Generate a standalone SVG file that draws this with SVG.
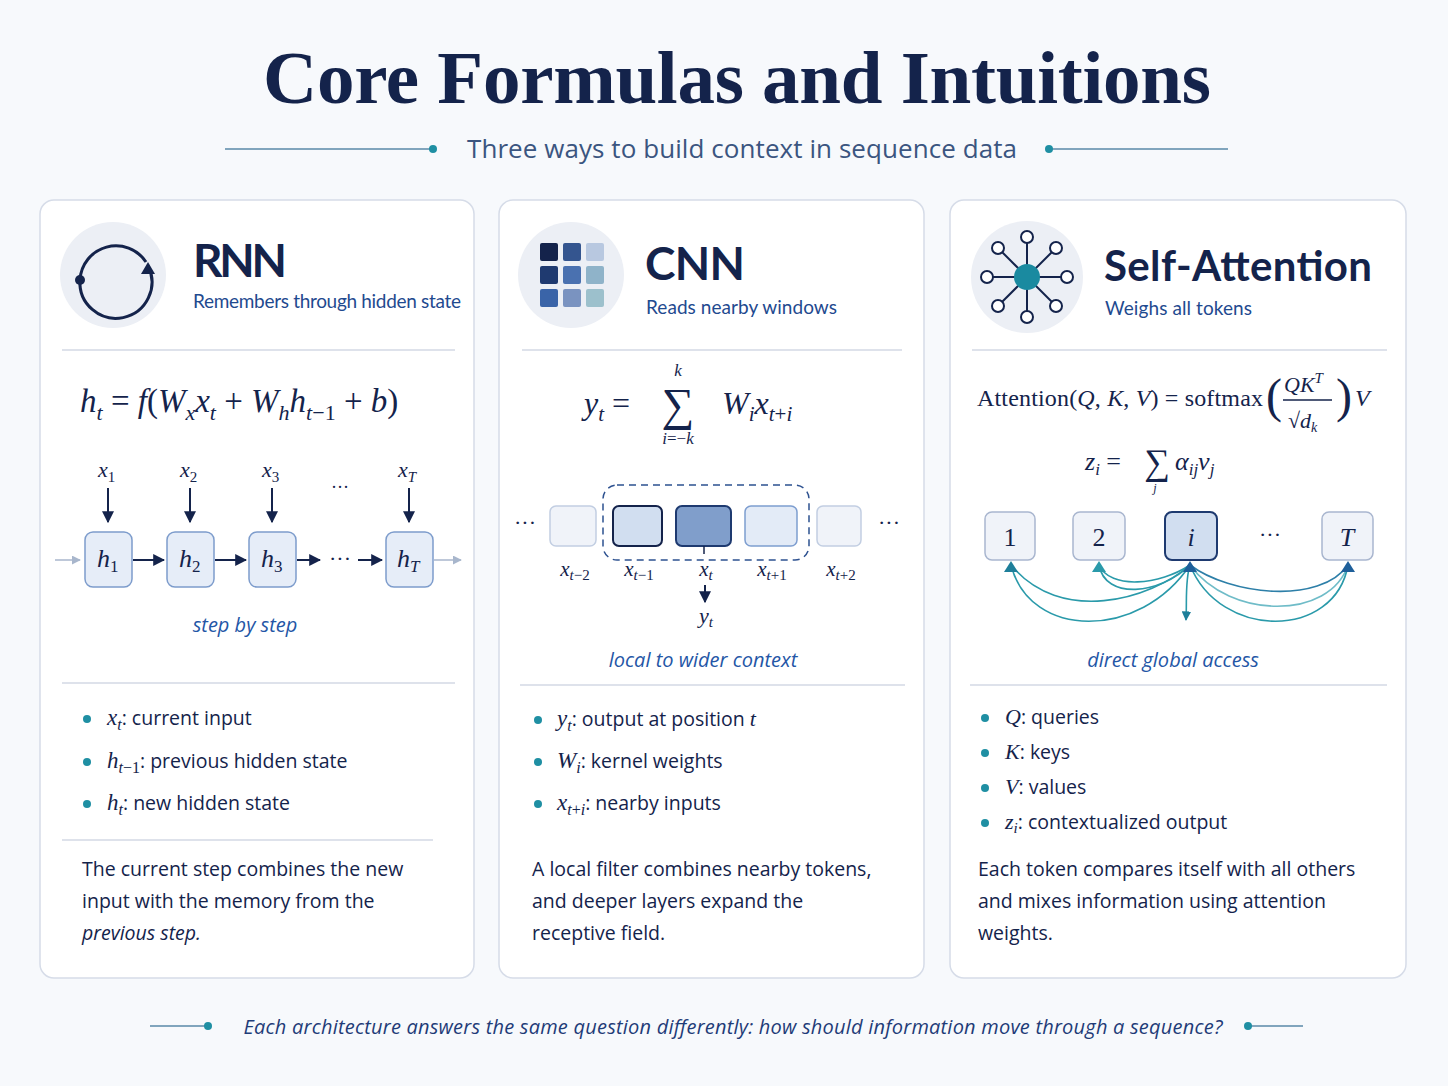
<svg xmlns="http://www.w3.org/2000/svg" width="1448" height="1086" viewBox="0 0 1448 1086">
<defs>
<style>
.sans{font-family:"Open Sans","Liberation Sans",sans-serif}
.serif{font-family:"Liberation Serif","DejaVu Serif",serif}
.m{font-family:"Liberation Serif",serif;font-style:italic;fill:#14234b}
.mr{font-family:"Liberation Serif",serif;fill:#14234b}
.panel{fill:#fff;stroke:#d6dce8;stroke-width:1.5}
.sep{stroke:#d3d9e4;stroke-width:1.5}
.head{font-family:Lato,"Liberation Sans",sans-serif;font-weight:700;fill:#14234b}
.sub{font-family:Lato,"Liberation Sans",sans-serif;font-size:19px;fill:#1f4a8f}
.cap{font-family:"Open Sans","Liberation Sans",sans-serif;font-style:italic;font-size:20px;fill:#2456a6;text-anchor:middle}
.txt{font-family:"Open Sans","Liberation Sans",sans-serif;font-size:19.5px;fill:#14234b}
.dot{fill:#1f8fa3}
.hbox{fill:#e6edf8;stroke:#7d9ccc;stroke-width:1.5}
.arr{stroke:#14234b;stroke-width:2;fill:none;marker-end:url(#ah)}
.arc{stroke:#2a9aaa;stroke-width:1.6;fill:none}
</style>
<marker id="ah" viewBox="0 0 10 10" refX="9" refY="5" markerWidth="6" markerHeight="6" orient="auto"><path d="M0,0L10,5L0,10z" fill="#14234b"/></marker>
<marker id="ahl" viewBox="0 0 10 10" refX="9" refY="5" markerWidth="6" markerHeight="6" orient="auto"><path d="M0,0L10,5L0,10z" fill="#a8b6cc"/></marker>
<marker id="aht" viewBox="0 0 10 10" refX="9" refY="5" markerWidth="6" markerHeight="6" orient="auto"><path d="M0,0L10,5L0,10z" fill="#1e7f9a"/></marker>
</defs>
<rect width="1448" height="1086" fill="#f7f9fc"/>
<text x="737" y="103" text-anchor="middle" class="serif" font-size="75" font-weight="700" fill="#14234b" textLength="948">Core Formulas and Intuitions</text>
<g id="subtitle">
<line x1="225" y1="149" x2="432" y2="149" stroke="#5a88a8" stroke-width="1.5"/><circle cx="433" cy="149" r="4" class="dot"/>
<line x1="1050" y1="149" x2="1228" y2="149" stroke="#5a88a8" stroke-width="1.5"/><circle cx="1049" cy="149" r="4" class="dot"/>
<text x="742" y="158" text-anchor="middle" class="sans" font-size="26" fill="#3b5580" textLength="550">Three ways to build context in sequence data</text>
</g>

<g id="rnn">
<rect x="40" y="200" width="434" height="778" rx="14" class="panel"/>
<circle cx="113" cy="275" r="53" fill="#eceff5"/>
<path d="M80,280 A36,36 0 1 0 148,266" fill="none" stroke="#14234b" stroke-width="3"/>
<path d="M80,280 A36,36 0 0 1 146,262" fill="none" stroke="#14234b" stroke-width="3"/>
<circle cx="80" cy="280" r="5" fill="#14234b"/>
<path d="M141,274 L148,262 L155,274z" fill="#14234b"/>
<text x="193" y="277" class="head" font-size="46" textLength="94">RNN</text>
<text x="193" y="308" class="sub" textLength="268">Remembers through hidden state</text>
<line x1="62" y1="350" x2="455" y2="350" class="sep"/>
<text x="80" y="412" class="m" font-size="33">h<tspan font-size="22" dy="8">t</tspan><tspan dy="-8" font-style="normal"> = </tspan>f<tspan font-style="normal">(</tspan>W<tspan font-size="22" dy="8">x</tspan><tspan dy="-8">x</tspan><tspan font-size="22" dy="8">t</tspan><tspan dy="-8" font-style="normal"> + </tspan>W<tspan font-size="22" dy="8">h</tspan><tspan dy="-8">h</tspan><tspan font-size="22" dy="8">t</tspan><tspan font-size="22" font-style="normal">−1</tspan><tspan dy="-8" font-style="normal"> + </tspan>b<tspan font-style="normal">)</tspan></text>
<g font-size="22">
<text x="98" y="477" class="m">x<tspan font-size="15" dy="5" font-style="normal">1</tspan></text>
<text x="180" y="477" class="m">x<tspan font-size="15" dy="5" font-style="normal">2</tspan></text>
<text x="262" y="477" class="m">x<tspan font-size="15" dy="5" font-style="normal">3</tspan></text>
<text x="398" y="477" class="m">x<tspan font-size="15" dy="5">T</tspan></text>
</g>
<text x="340" y="493" class="mr" font-size="18" text-anchor="middle">···</text>
<line x1="108" y1="488" x2="108" y2="522" class="arr"/>
<line x1="190" y1="488" x2="190" y2="522" class="arr"/>
<line x1="272" y1="488" x2="272" y2="522" class="arr"/>
<line x1="409" y1="488" x2="409" y2="522" class="arr"/>
<rect x="85" y="532" width="47" height="55" rx="8" class="hbox"/>
<rect x="167" y="532" width="47" height="55" rx="8" class="hbox"/>
<rect x="249" y="532" width="47" height="55" rx="8" class="hbox"/>
<rect x="386" y="532" width="47" height="55" rx="8" class="hbox"/>
<g font-size="26">
<text x="97" y="567" class="m">h<tspan font-size="17" dy="5" font-style="normal">1</tspan></text>
<text x="179" y="567" class="m">h<tspan font-size="17" dy="5" font-style="normal">2</tspan></text>
<text x="261" y="567" class="m">h<tspan font-size="17" dy="5" font-style="normal">3</tspan></text>
<text x="397" y="567" class="m">h<tspan font-size="17" dy="5">T</tspan></text>
</g>
<line x1="55" y1="560" x2="80" y2="560" stroke="#a8b6cc" stroke-width="1.5" marker-end="url(#ahl)"/>
<line x1="133" y1="560" x2="164" y2="560" class="arr"/>
<line x1="215" y1="560" x2="246" y2="560" class="arr"/>
<line x1="297" y1="560" x2="320" y2="560" class="arr"/>
<text x="340" y="566" class="mr" font-size="22" text-anchor="middle">···</text>
<line x1="358" y1="560" x2="382" y2="560" class="arr"/>
<line x1="434" y1="560" x2="461" y2="560" stroke="#a8b6cc" stroke-width="1.5" marker-end="url(#ahl)"/>
<text x="245" y="632" class="cap">step by step</text>
<line x1="62" y1="683" x2="455" y2="683" class="sep"/>
<circle cx="87" cy="719" r="4" class="dot"/><circle cx="87" cy="762" r="4" class="dot"/><circle cx="87" cy="804" r="4" class="dot"/>
<text x="107" y="725" class="txt"><tspan class="m" font-size="23">x</tspan><tspan class="m" font-size="16" dy="5">t</tspan><tspan dy="-5">:  current input</tspan></text>
<text x="107" y="768" class="txt"><tspan class="m" font-size="23">h</tspan><tspan class="m" font-size="16" dy="5">t</tspan><tspan class="mr" font-size="16">−1</tspan><tspan dy="-5">:  previous hidden state</tspan></text>
<text x="107" y="810" class="txt"><tspan class="m" font-size="23">h</tspan><tspan class="m" font-size="16" dy="5">t</tspan><tspan dy="-5">:  new hidden state</tspan></text>
<line x1="62" y1="840" x2="433" y2="840" class="sep"/>
<text x="82" y="876" class="txt">The current step combines the new</text>
<text x="82" y="908" class="txt">input with the memory from the</text>
<text x="82" y="940" class="txt" font-style="italic">previous step.</text>
</g>

<g id="cnn">
<rect x="499" y="200" width="425" height="778" rx="14" class="panel"/>
<circle cx="571" cy="275" r="53" fill="#eceff5"/>
<rect x="540" y="243" width="18" height="18" rx="2" fill="#14234b"/>
<rect x="563" y="243" width="18" height="18" rx="2" fill="#34558f"/>
<rect x="586" y="243" width="18" height="18" rx="2" fill="#b8c8e0"/>
<rect x="540" y="266" width="18" height="18" rx="2" fill="#1f3a70"/>
<rect x="563" y="266" width="18" height="18" rx="2" fill="#4a71b0"/>
<rect x="586" y="266" width="18" height="18" rx="2" fill="#8fb3c9"/>
<rect x="540" y="289" width="18" height="18" rx="2" fill="#3a64a8"/>
<rect x="563" y="289" width="18" height="18" rx="2" fill="#7a93c0"/>
<rect x="586" y="289" width="18" height="18" rx="2" fill="#9cc0cc"/>
<text x="645" y="280" class="head" font-size="46" textLength="100">CNN</text>
<text x="646" y="314" class="sub" textLength="191">Reads nearby windows</text>
<line x1="522" y1="350" x2="902" y2="350" class="sep"/>
<text x="584" y="414" class="m" font-size="32">y<tspan font-size="21" dy="7">t</tspan><tspan dy="-7" font-style="normal"> = </tspan></text>
<text x="678" y="420" class="mr" font-size="46" text-anchor="middle">∑</text>
<text x="678" y="376" class="m" font-size="17" text-anchor="middle">k</text>
<text x="678" y="444" class="m" font-size="17" text-anchor="middle">i<tspan font-style="normal">=−</tspan>k</text>
<text x="722" y="414" class="m" font-size="32">W<tspan font-size="21" dy="7">i</tspan><tspan dy="-7">x</tspan><tspan font-size="21" dy="7">t</tspan><tspan font-size="21" font-style="normal">+</tspan><tspan font-size="21">i</tspan></text>
<text x="525" y="530" class="mr" font-size="22" text-anchor="middle">···</text>
<text x="889" y="530" class="mr" font-size="22" text-anchor="middle">···</text>
<rect x="603" y="485" width="206" height="75" rx="14" fill="none" stroke="#2d5190" stroke-width="1.5" stroke-dasharray="7,5"/>
<rect x="550" y="506" width="46" height="40" rx="6" fill="#f0f3f9" stroke="#c2cee2" stroke-width="1.5"/>
<rect x="613" y="506" width="49" height="40" rx="6" fill="#d1def0" stroke="#14234b" stroke-width="2"/>
<rect x="676" y="506" width="55" height="40" rx="6" fill="#809ecb" stroke="#1e3a70" stroke-width="2"/>
<rect x="745" y="506" width="52" height="40" rx="6" fill="#e3ebf7" stroke="#7e9ed0" stroke-width="1.5"/>
<rect x="817" y="506" width="44" height="40" rx="6" fill="#f0f3f9" stroke="#c2cee2" stroke-width="1.5"/>
<g font-size="21">
<text x="575" y="576" class="m" text-anchor="middle">x<tspan font-size="15" dy="4">t</tspan><tspan font-size="15" font-style="normal">−2</tspan></text>
<text x="639" y="576" class="m" text-anchor="middle">x<tspan font-size="15" dy="4">t</tspan><tspan font-size="15" font-style="normal">−1</tspan></text>
<text x="706" y="576" class="m" text-anchor="middle">x<tspan font-size="15" dy="4">t</tspan></text>
<text x="772" y="576" class="m" text-anchor="middle">x<tspan font-size="15" dy="4">t</tspan><tspan font-size="15" font-style="normal">+1</tspan></text>
<text x="841" y="576" class="m" text-anchor="middle">x<tspan font-size="15" dy="4">t</tspan><tspan font-size="15" font-style="normal">+2</tspan></text>
</g>
<line x1="704" y1="546" x2="704" y2="554" stroke="#14234b" stroke-width="1.5"/>
<line x1="705" y1="585" x2="705" y2="602" class="arr"/>
<text x="706" y="623" class="m" font-size="22" text-anchor="middle">y<tspan font-size="15" dy="4">t</tspan></text>
<text x="703" y="667" class="cap">local to wider context</text>
<line x1="520" y1="685" x2="905" y2="685" class="sep"/>
<circle cx="538" cy="720" r="4" class="dot"/><circle cx="538" cy="762" r="4" class="dot"/><circle cx="538" cy="804" r="4" class="dot"/>
<text x="557" y="726" class="txt"><tspan class="m" font-size="23">y</tspan><tspan class="m" font-size="16" dy="5">t</tspan><tspan dy="-5">:  output at position </tspan><tspan class="m" font-size="22">t</tspan></text>
<text x="557" y="768" class="txt"><tspan class="m" font-size="23">W</tspan><tspan class="m" font-size="16" dy="5">i</tspan><tspan dy="-5">:  kernel weights</tspan></text>
<text x="557" y="810" class="txt"><tspan class="m" font-size="23">x</tspan><tspan class="m" font-size="16" dy="5">t</tspan><tspan class="mr" font-size="16">+</tspan><tspan class="m" font-size="16">i</tspan><tspan dy="-5">:  nearby inputs</tspan></text>
<text x="532" y="876" class="txt">A local filter combines nearby tokens,</text>
<text x="532" y="908" class="txt">and deeper layers expand the</text>
<text x="532" y="940" class="txt">receptive field.</text>
</g>

<g id="attention">
<rect x="950" y="200" width="456" height="778" rx="14" class="panel"/>
<circle cx="1027" cy="277" r="56" fill="#eceff5"/>
<g stroke="#14234b" stroke-width="2" fill="#fff">
<line x1="1027" y1="277" x2="1027" y2="241"/><line x1="1027" y1="277" x2="1027" y2="313"/>
<line x1="1027" y1="277" x2="991" y2="277"/><line x1="1027" y1="277" x2="1063" y2="277"/>
<line x1="1027" y1="277" x2="1001" y2="251"/><line x1="1027" y1="277" x2="1053" y2="251"/>
<line x1="1027" y1="277" x2="1001" y2="303"/><line x1="1027" y1="277" x2="1053" y2="303"/>
<circle cx="1027" cy="237" r="6"/><circle cx="1027" cy="317" r="6"/>
<circle cx="987" cy="277" r="6"/><circle cx="1067" cy="277" r="6"/>
<circle cx="998" cy="248" r="6"/><circle cx="1056" cy="248" r="6"/>
<circle cx="998" cy="306" r="6"/><circle cx="1056" cy="306" r="6"/>
</g>
<circle cx="1027" cy="277" r="13" fill="#1a8aa0"/>
<text x="1104" y="281" class="head" font-size="42" textLength="268">Self-Attention</text>
<text x="1105" y="315" class="sub" textLength="147">Weighs all tokens</text>
<line x1="972" y1="350" x2="1387" y2="350" class="sep"/>
<text x="977" y="406" class="mr" font-size="24" textLength="286">Attention(<tspan font-style="italic">Q</tspan>, <tspan font-style="italic">K</tspan>, <tspan font-style="italic">V</tspan>) = softmax</text>
<text x="1266" y="412" class="mr" font-size="48">(</text>
<text x="1336" y="412" class="mr" font-size="48">)</text>
<text x="1284" y="392" class="m" font-size="22">QK<tspan font-size="15" dy="-9">T</tspan></text>
<line x1="1283" y1="400" x2="1332" y2="400" stroke="#14234b" stroke-width="1.3"/>
<text x="1288" y="428" class="mr" font-size="22">√<tspan font-style="italic">d</tspan><tspan font-size="14" font-style="italic" dy="4">k</tspan></text>
<text x="1355" y="406" class="m" font-size="24">V</text>
<text x="1085" y="470" class="m" font-size="26">z<tspan font-size="17" dy="5">i</tspan><tspan dy="-5" font-style="normal"> = </tspan></text>
<text x="1157" y="474" class="mr" font-size="36" text-anchor="middle">∑</text>
<text x="1155" y="492" class="m" font-size="12" text-anchor="middle">j</text>
<text x="1175" y="470" class="m" font-size="26">α<tspan font-size="17" dy="5">ij</tspan><tspan dy="-5">v</tspan><tspan font-size="17" dy="5">j</tspan></text>
<rect x="985" y="512" width="50" height="48" rx="7" fill="#f0f3f9" stroke="#a9b6cf" stroke-width="1.5"/>
<rect x="1073" y="512" width="52" height="48" rx="7" fill="#f0f3f9" stroke="#a9b6cf" stroke-width="1.5"/>
<rect x="1165" y="512" width="52" height="48" rx="7" fill="#d1def0" stroke="#1e3a70" stroke-width="2"/>
<rect x="1322" y="512" width="51" height="48" rx="7" fill="#f0f3f9" stroke="#a9b6cf" stroke-width="1.5"/>
<text x="1010" y="546" class="mr" font-size="26" text-anchor="middle">1</text>
<text x="1099" y="546" class="mr" font-size="26" text-anchor="middle">2</text>
<text x="1191" y="546" class="m" font-size="26" text-anchor="middle">i</text>
<text x="1270" y="542" class="mr" font-size="22" text-anchor="middle">···</text>
<text x="1347" y="546" class="m" font-size="26" text-anchor="middle">T</text>
<g class="arc">
<path d="M1190,565 C1150,600 1060,625 1011,565"/>
<path d="M1190,565 C1140,640 1030,640 1011,565"/>
<path d="M1190,565 C1160,585 1110,590 1099,565"/>
<path d="M1190,565 C1160,595 1105,600 1099,565"/>
<path d="M1190,565 C1185,580 1187,600 1186,620" marker-end="url(#aht)"/>
<path d="M1190,565 C1230,595 1320,605 1348,565" stroke="#2d7fa8"/>
<path d="M1190,565 C1230,620 1330,620 1348,565" stroke="#6fbcc8"/>
<path d="M1190,565 C1220,640 1335,640 1348,565"/>
</g>
<path d="M1004,572 L1011,561 L1018,572z" fill="#1e7f9a"/>
<path d="M1092,572 L1099,561 L1106,572z" fill="#2a9aaa"/>
<path d="M1183,572 L1190,561 L1197,572z" fill="#1e5f9a"/>
<path d="M1341,572 L1348,561 L1355,572z" fill="#1e5f9a"/>
<text x="1173" y="667" class="cap">direct global access</text>
<line x1="970" y1="685" x2="1387" y2="685" class="sep"/>
<circle cx="985" cy="718" r="4" class="dot"/><circle cx="985" cy="753" r="4" class="dot"/><circle cx="985" cy="788" r="4" class="dot"/><circle cx="985" cy="823" r="4" class="dot"/>
<text x="1005" y="724" class="txt" font-size="19"><tspan class="m" font-size="22">Q</tspan>:  queries</text>
<text x="1005" y="759" class="txt" font-size="19"><tspan class="m" font-size="22">K</tspan>:  keys</text>
<text x="1005" y="794" class="txt" font-size="19"><tspan class="m" font-size="22">V</tspan>:  values</text>
<text x="1005" y="829" class="txt" font-size="19"><tspan class="m" font-size="22">z</tspan><tspan class="m" font-size="15" dy="4">i</tspan><tspan dy="-4">:  contextualized output</tspan></text>
<text x="978" y="876" class="txt">Each token compares itself with all others</text>
<text x="978" y="908" class="txt">and mixes information using attention</text>
<text x="978" y="940" class="txt">weights.</text>
</g>

<g id="footer">
<line x1="150" y1="1026" x2="207" y2="1026" stroke="#5a88a8" stroke-width="1.5"/><circle cx="208" cy="1026" r="4" class="dot"/>
<line x1="1250" y1="1026" x2="1303" y2="1026" stroke="#5a88a8" stroke-width="1.5"/><circle cx="1248" cy="1026" r="4" class="dot"/>
<text x="733" y="1034" text-anchor="middle" class="sans" font-style="italic" font-size="20" fill="#1f3c78" textLength="979">Each architecture answers the same question differently: how should information move through a sequence?</text>
</g>
</svg>
